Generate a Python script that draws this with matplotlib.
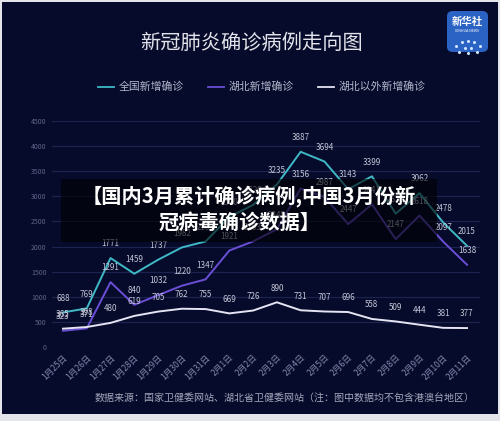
import matplotlib
matplotlib.use("Agg")
import matplotlib.pyplot as plt
from matplotlib.patches import Rectangle, FancyBboxPatch
from matplotlib.lines import Line2D

plt.rcParams['font.family'] = ['Noto Sans CJK SC', 'DejaVu Sans']

dates = ["1月25日", "1月26日", "1月27日", "1月28日", "1月29日", "1月30日", "1月31日",
         "2月1日", "2月2日", "2月3日", "2月4日", "2月5日", "2月6日", "2月7日",
         "2月8日", "2月9日", "2月10日", "2月11日"]
national = [688, 769, 1771, 1459, 1737, 1982, 2102, 2590, 2829, 3235, 3887, 3694,
            3143, 3399, 2656, 3062, 2478, 2015]
hubei = [323, 371, 1291, 840, 1032, 1220, 1347, 1921, 2103, 2345, 3156, 2987,
         2447, 2841, 2147, 2618, 2097, 1638]
outside = [365, 398, 480, 619, 705, 762, 755, 669, 726, 890, 731, 707, 696, 558,
           509, 444, 381, 377]
yticks = [0, 500, 1000, 1500, 2000, 2500, 3000, 3500, 4000, 4500]

W, H = 500, 421
BG = '#070b2b'
fig = plt.figure(figsize=(W / 100, H / 100), dpi=100)
fig.patch.set_facecolor('#e4e5ea')

def fx(px):
    return px / W

def fy(py):
    return 1 - py / H

fig.add_artist(Rectangle((fx(2), fy(414)), fx(496), 412 / H, transform=fig.transFigure,
                         facecolor=BG, edgecolor='none', zorder=0))

ax = fig.add_axes([fx(52), fy(347), fx(428), (347 - 121) / H])
ax.set_facecolor(BG)
ax.patch.set_alpha(0)
x = list(range(len(dates)))

c_nat = '#3fb9c6'
c_hub = '#6a4fd6'
c_out = '#e4e4f2'
ax.plot(x, national, color=c_nat, lw=1.4, zorder=3)
ax.plot(x, hubei, color=c_hub, lw=1.4, zorder=3)
ax.plot(x, outside, color=c_out, lw=1.4, zorder=3)

lab_col = '#c4c6d6'
for series in (national, hubei, outside):
    for xi, v in zip(x, series):
        ax.annotate(str(v), (xi, v), xytext=(0, 7), textcoords='offset points',
                    ha='center', va='bottom', fontsize=5.8, color=lab_col, zorder=4)

ax.set_xlim(-0.463, 17.547)
ax.set_ylim(0, 4500)
ax.set_yticks(yticks)
ax.set_yticklabels([str(t) for t in yticks], fontsize=5, color='#5d6488')
ax.set_xticks(x)
ax.set_xticklabels(dates, rotation=45, ha='right', rotation_mode='anchor',
                   fontsize=6.2, color='#8088ac')
ax.tick_params(length=0, pad=4)
ax.grid(axis='y', color='#1b2350', lw=0.8)
ax.set_axisbelow(True)
for s in ax.spines.values():
    s.set_visible(False)

# title
fig.text(fx(252), fy(43), "新冠肺炎确诊病例走向图", ha='center', va='center',
         fontsize=14.6, color='#e2e2ea')

# legend
leg = [(98, c_nat, "全国新增确诊"), (208, c_hub, "湖北新增确诊"), (318, c_out, "湖北以外新增确诊")]
for px, col, txt in leg:
    fig.add_artist(Line2D([fx(px), fx(px + 16)], [fy(87), fy(87)], color=col, lw=1.3,
                          transform=fig.transFigure))
    fig.text(fx(px + 21), fy(87), txt, ha='left', va='center', fontsize=7.8, color='#b4b8cc')

# source
fig.text(fx(285), fy(398), "数据来源：国家卫健委网站、湖北省卫健委网站（注：图中数据均不包含港澳台地区）",
         ha='center', va='center', fontsize=7.2, color='#a4a8bc')

# logo
fig.add_artist(FancyBboxPatch((fx(447), fy(52)), fx(41), 41 / H,
                              boxstyle="round,pad=0,rounding_size=0.012",
                              transform=fig.transFigure, facecolor='#2a63c4',
                              edgecolor='none', zorder=2))
fig.text(fx(467.5), fy(22), "新华社", ha='center', va='center', fontsize=7.5,
         color='white', fontweight='bold', zorder=3)
fig.text(fx(467.5), fy(31), "XINHUA NEWS", ha='center', va='center', fontsize=2.6,
         color='white', zorder=3)
for dx, dy in [(-12, 8), (-6, 4), (0, 3), (6, 4), (12, 8), (-3, 10), (3, 10), (-9, 14), (9, 14), (0, 15)]:
    fig.add_artist(Line2D([fx(467.5 + dx)], [fy(38 + dy)], marker='o', ms=1.2,
                          color='#cfe6ff', transform=fig.transFigure, zorder=3))

# overlay banner
fig.add_artist(Rectangle((fx(61), fy(242)), fx(376), (242 - 179) / H,
                         transform=fig.transFigure, facecolor='black', alpha=0.6,
                         edgecolor='none', zorder=5))
fig.text(fx(249), fy(197), "【国内3月累计确诊病例,中国3月份新", ha='center', va='center',
         fontsize=14.6, color='white', fontweight='bold', zorder=6)
fig.text(fx(240), fy(222), "冠病毒确诊数据】", ha='center', va='center',
         fontsize=14.6, color='white', fontweight='bold', zorder=6)

fig.savefig("out.png", dpi=100, facecolor=fig.get_facecolor())
